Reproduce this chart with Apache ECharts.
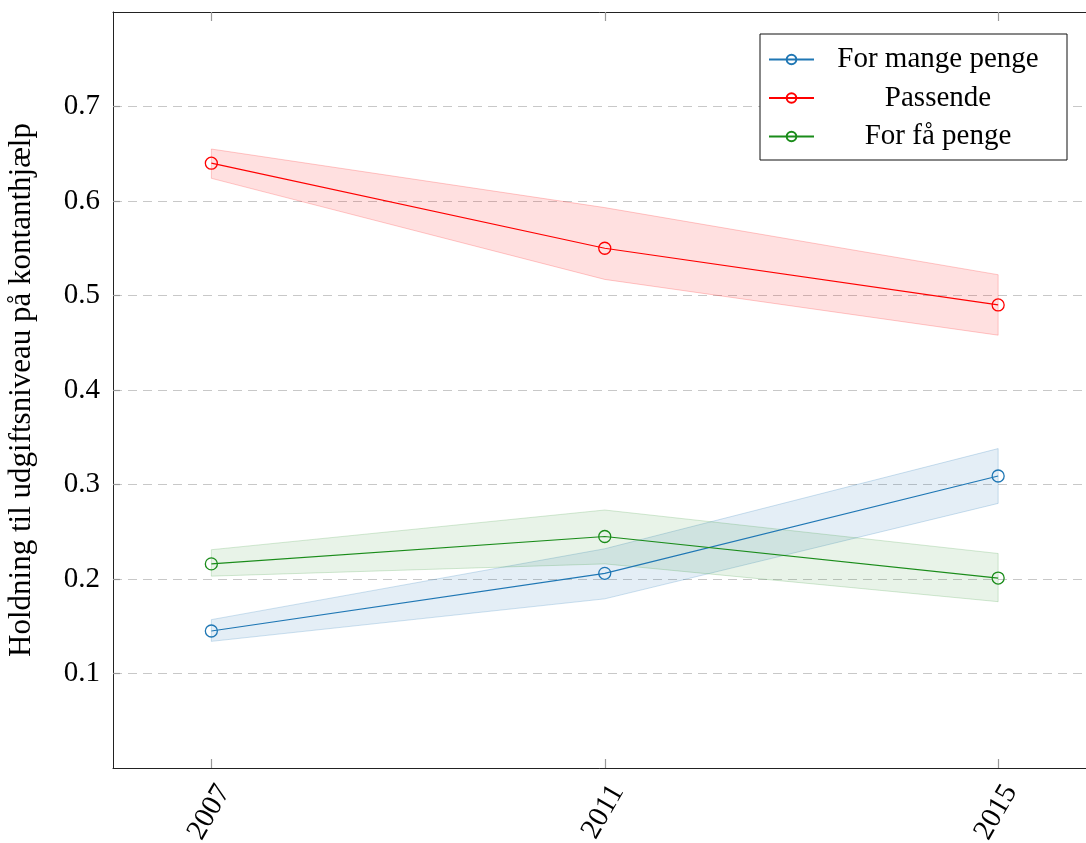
<!DOCTYPE html>
<html>
<head>
<meta charset="utf-8">
<script src="https://cdn.jsdelivr.net/npm/echarts@6/dist/echarts.min.js"></script>
<style>html,body{margin:0;padding:0;background:#fff;}#c{width:1086px;height:843px;}</style>
</head>
<body>
<div id="c"></div>
<script>
const years = [2007, 2011, 2015];
const yTicks = [0.1, 0.2, 0.3, 0.4, 0.5, 0.6, 0.7];
const seriesNames = ['For mange penge', 'Passende', 'For få penge'];
const mangeMean = [0.145, 0.206, 0.309];
const mangeLow  = [0.134, 0.179, 0.280];
const mangeHigh = [0.157, 0.232, 0.338];
const passMean  = [0.640, 0.550, 0.490];
const passLow   = [0.624, 0.517, 0.458];
const passHigh  = [0.655, 0.593, 0.522];
const faaMean   = [0.216, 0.245, 0.201];
const faaLow    = [0.203, 0.216, 0.176];
const faaHigh   = [0.231, 0.273, 0.227];

const FONT = '"Liberation Serif", "DejaVu Serif", serif';
const colors = ['#1f77b4', '#ff0000', '#1a8c1a'];
const bandFill = ['rgba(31,119,180,0.12)', 'rgba(255,0,0,0.12)', 'rgba(26,140,26,0.10)'];
const bandEdge = ['rgba(31,119,180,0.22)', 'rgba(255,0,0,0.2)', 'rgba(26,140,26,0.18)'];

const means = [mangeMean, passMean, faaMean];
const lows = [mangeLow, passLow, faaLow];
const highs = [mangeHigh, passHigh, faaHigh];

const pair = (arr) => years.map((y, i) => [y, arr[i]]);

const series = [];
for (let k = 0; k < 3; k++) {
  const lo = lows[k], hi = highs[k];
  series.push({
    name: 'band' + k, type: 'custom', silent: true, z: 1,
    data: years.map((y, i) => [y, lo[i], hi[i]]),
    encode: { x: 0, y: [1, 2] },
    renderItem: function (params, api) {
      if (params.dataIndex !== 0) return null;
      const pts = [];
      for (let i = 0; i < years.length; i++) pts.push(api.coord([years[i], hi[i]]));
      for (let i = years.length - 1; i >= 0; i--) pts.push(api.coord([years[i], lo[i]]));
      return {
        type: 'polygon',
        shape: { points: pts },
        style: { fill: bandFill[k], stroke: bandEdge[k], lineWidth: 1 }
      };
    }
  });
}
for (let k = 0; k < 3; k++) {
  series.push({
    name: seriesNames[k], type: 'line', data: pair(means[k]), z: 3,
    symbol: 'circle', symbolSize: 12,
    color: colors[k],
    lineStyle: { color: colors[k], width: 1.2 },
    itemStyle: { color: 'rgba(255,255,255,0)', borderColor: colors[k], borderWidth: 1.3 }
  });
}

const chart = echarts.init(document.getElementById('c'), null, { renderer: 'canvas' });
chart.setOption({
  animation: false,
  backgroundColor: '#fff',
  grid: { left: 113, top: 12, right: -10.5, bottom: 75, containLabel: false, outerBoundsMode: 'none' },
  legend: {
    data: seriesNames,
    orient: 'vertical',
    left: 760, top: 34,
    padding: [11, 10, 9, 8],
    itemGap: 9.5,
    itemWidth: 45, itemHeight: 12,
    borderColor: '#111', borderWidth: 1,
    backgroundColor: '#fff',
    formatter: (n) => '{c|' + n + '}',
    textStyle: {
      fontFamily: FONT, fontSize: 29, color: '#000',
      rich: { c: { fontFamily: FONT, fontSize: 29, color: '#000', width: 238, align: 'center', lineHeight: 30 } }
    }
  },
  xAxis: [{
    type: 'value', min: 2006, max: 2016, position: 'bottom',
    axisLine: { show: true, onZero: false, lineStyle: { color: '#222', width: 1 } },
    axisTick: { show: true, inside: true, length: 9, customValues: years, lineStyle: { color: '#999', width: 1.2 } },
    axisLabel: { show: true, customValues: years, rotate: 60, margin: 12, verticalAlign: 'top',
      fontFamily: FONT, fontSize: 29, color: '#000',
      formatter: (v) => String(v) },
    splitLine: { show: false }
  }, {
    type: 'value', min: 2006, max: 2016, position: 'top',
    axisLine: { show: true, onZero: false, lineStyle: { color: '#222', width: 1 } },
    axisTick: { show: true, inside: true, length: 9, customValues: years, lineStyle: { color: '#999', width: 1.2 } },
    axisLabel: { show: false },
    splitLine: { show: false }
  }],
  yAxis: {
    type: 'value', min: 0, max: 0.8, interval: 0.1,
    name: 'Holdning til udgiftsniveau på kontanthjælp',
    nameLocation: 'middle', nameGap: 76, nameRotate: 90,
    nameTextStyle: { fontFamily: FONT, fontSize: 31, color: '#000' },
    axisLine: { show: true, onZero: false, lineStyle: { color: '#222', width: 1 } },
    axisTick: { show: true, inside: true, length: 7, customValues: yTicks, lineStyle: { color: '#999', width: 1.2 } },
    axisLabel: { show: true, customValues: yTicks, margin: 13, fontFamily: FONT, fontSize: 29, color: '#000',
      formatter: (v) => v.toFixed(1) },
    splitLine: { show: true, lineStyle: { color: '#c8c8c8', width: 1.2, type: [9, 6] } }
  },
  series: series
});
</script>
</body>
</html>
